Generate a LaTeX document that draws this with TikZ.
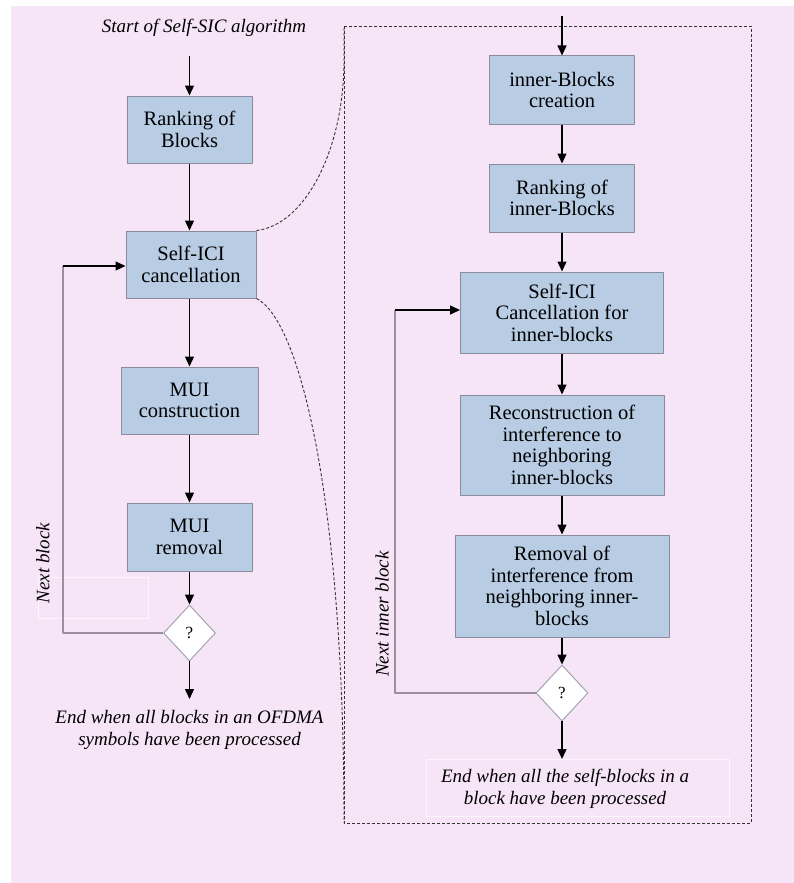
\documentclass[tikz,border=0pt]{standalone}
\usepackage{fontspec}
\setmainfont{Liberation Serif}
\usetikzlibrary{arrows.meta,positioning,shapes.geometric}
\definecolor{sicbg}{HTML}{F6E5F7}
\definecolor{sicfill}{HTML}{B8CCE4}
\definecolor{sicedge}{HTML}{8A8C9E}
\definecolor{sicloop}{HTML}{9C8FA2}
\tikzset{
  every picture/.append style={line join=round},
  sic box/.style={draw=sicedge,fill=sicfill,line width=1pt,inner sep=0pt,align=center,
    font=\fontsize{20.5}{21.5}\selectfont},
  sic decision/.style={diamond,draw=sicedge!85,fill=white,line width=0.9pt,inner sep=0pt,
    minimum width=52pt,minimum height=56pt,font=\fontsize{17}{17}\selectfont},
  sic flow/.style={line width=1.3pt,-{Triangle[length=10pt,width=9pt]}},
  sic loop/.style={sicloop,line width=1.1pt},
  sic zoom/.style={line width=0.9pt,black!80,dash pattern=on 3pt off 2pt},
  sic note/.style={font=\fontsize{19}{22}\selectfont\itshape,align=center,inner sep=0pt},
  sic ghost/.style={draw=white!65!sicbg,line width=0.5pt}
}

\begin{document}
\begin{tikzpicture}[x=1pt,y=-1pt]
  \useasboundingbox (0,0) rectangle (794,883);
  \fill[sicbg] (11,6) rectangle (794,883);

  % outer loop over the blocks
  \node[sic note] (start) at (204,28) {Start of Self-SIC algorithm};
  \coordinate (startArrow) at (189.5,56);
  \node[sic box,minimum width=125pt,minimum height=67pt] (rank) at (189.5,129.5) {Ranking of\\Blocks};
  \node[sic box,minimum width=130pt,minimum height=67pt] (selfici) at (191,264.5) {Self-ICI\\cancellation};
  \node[sic box,minimum width=137pt,minimum height=67pt] (muicon) at (189.5,400.5) {MUI\\construction};
  \node[sic box,minimum width=125pt,minimum height=68pt] (muirem) at (189.5,537) {MUI\\removal};
  \node[sic decision] (dec1) at (189.5,633) {?};
  \coordinate (leftEnd) at (189.5,699);
  \node[sic note] (leftEndNote) at (189.5,730) {End when all blocks in an OFDMA\\symbols have been processed};
  \coordinate (loopL) at (63,266);
  \draw[sic ghost] (38,577) rectangle (148,618);
  \node[sic note,rotate=90] (nextBlock) at (43,563) {Next block};

  \draw[sic flow] (startArrow) -- (rank);
  \draw[sic flow] (rank) -- (rank.south |- selfici.north);
  \draw[sic flow] (rank.south |- selfici.south) -- (muicon);
  \draw[sic flow] (muicon) -- (muirem);
  \draw[sic flow] (muirem) -- (dec1);
  \draw[sic flow] (dec1) -- (leftEnd);
  \draw[sic loop] (dec1.west) -| (loopL);
  \draw[sic flow] (loopL) -- (loopL -| selfici.west);

  % detail of the Self-ICI cancellation step
  \coordinate (frameNW) at (344,26);
  \coordinate (frameSW) at (344,823);
  \coordinate (frameSE) at (751,823);
  \draw[sic zoom] (frameNW) rectangle (frameSE);
  \draw[sic zoom] (selfici.north east) .. controls (305,225) and (344,150) .. (344,60) -- (frameNW);
  \draw[sic zoom] (selfici.south east) .. controls (300,320) and (344,500) .. (frameSW);

  \coordinate (zoomIn) at (562,16);
  \node[sic box,minimum width=145pt,minimum height=68pt] (create) at (562,90) {inner-Blocks\\creation};
  \node[sic box,minimum width=145pt,minimum height=68pt] (rankin) at (562,198) {Ranking of\\inner-Blocks};
  \node[sic box,minimum width=203pt,minimum height=81pt] (selfin) at (562,312.5) {Self-ICI\\Cancellation for\\inner-blocks};
  \node[sic box,minimum width=204pt,minimum height=100pt] (recon) at (562,445) {Reconstruction of\\interference to\\neighboring\\inner-blocks};
  \node[sic box,minimum width=214pt,minimum height=102pt] (removin) at (562,586) {Removal of\\interference from\\neighboring inner-\\blocks};
  \node[sic decision] (dec2) at (562,693) {?};
  \coordinate (rightEnd) at (562,759);
  \draw[sic ghost] (426,759) rectangle (729,816);
  \node[sic note] (rightEndNote) at (565,789) {End when all the self-blocks in a\\block have been processed};
  \coordinate (loopR) at (395,310);
  \node[sic note,rotate=90] (nextInner) at (382,614) {Next inner block};

  \draw[sic flow] (zoomIn) -- (create);
  \draw[sic flow] (create) -- (rankin);
  \draw[sic flow] (rankin) -- (selfin);
  \draw[sic flow] (selfin) -- (recon);
  \draw[sic flow] (recon) -- (removin);
  \draw[sic flow] (removin) -- (dec2);
  \draw[sic flow] (dec2) -- (rightEnd);
  \draw[sic loop] (dec2.west) -| (loopR);
  \draw[sic flow] (loopR) -- (loopR -| selfin.west);
\end{tikzpicture}
\end{document}
